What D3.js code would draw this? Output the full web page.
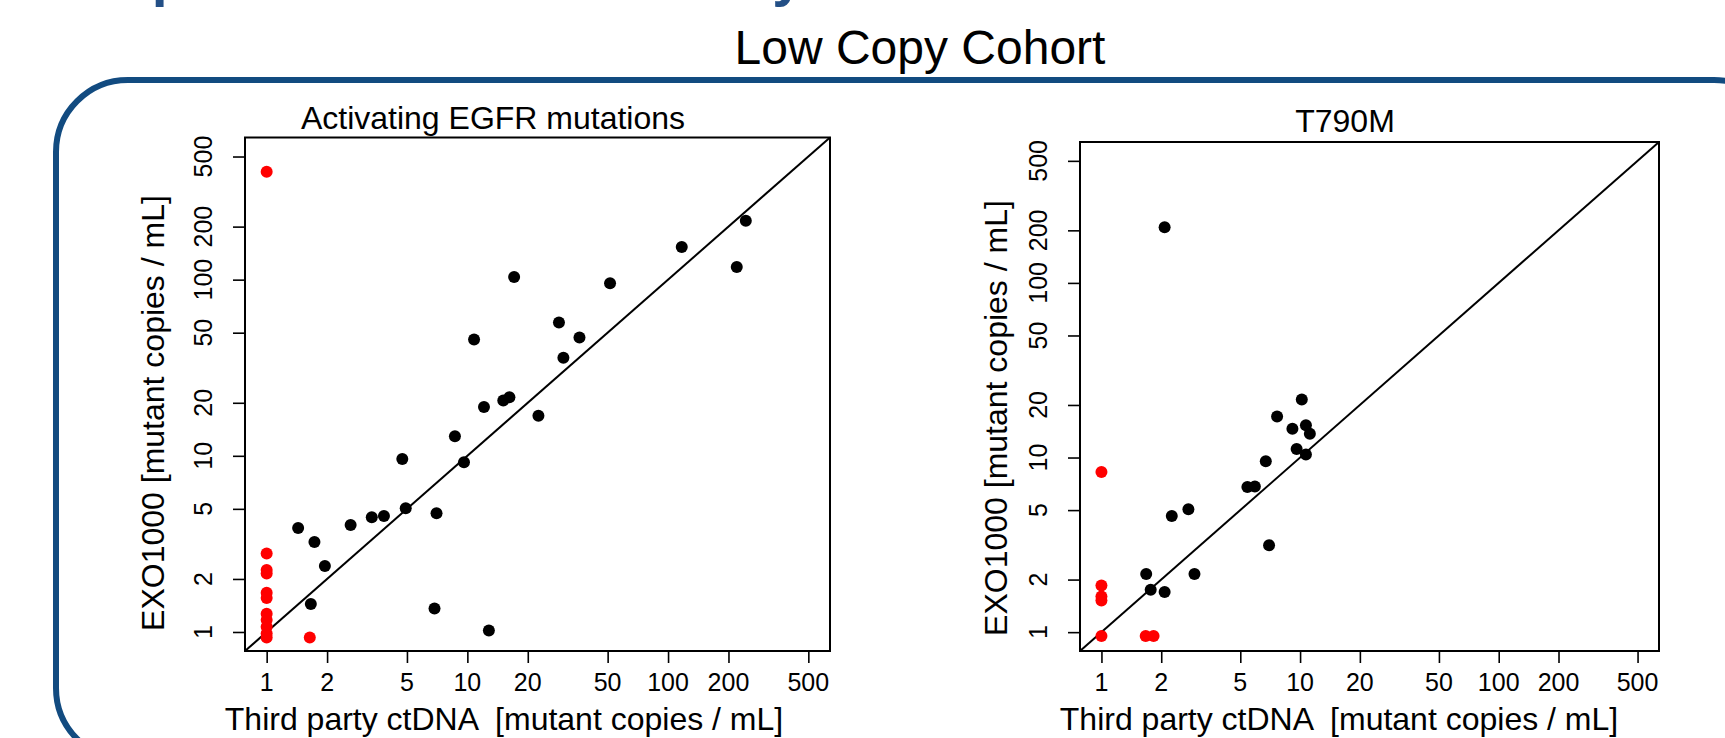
<!DOCTYPE html>
<html lang="en">
<head>
<meta charset="utf-8">
<style>
  body { margin: 0; background: #fff; }
  svg text { font-family: "Liberation Sans", Arial, sans-serif; fill: #000; }
</style>
</head>
<body>
<script src="https://d3js.org/d3.v7.min.js"></script>
<script>
    // tick values shared by both axes of both panels
    var tickVals = [1, 2, 5, 10, 20, 50, 100, 200, 500];

    // Activating EGFR mutations
    var egfrBlackX = [1.435, 1.73, 1.95, 1.66, 2.62, 3.34, 3.84, 4.74, 4.93, 7.02, 6.86, 12.8, 8.67, 9.62,
        12.1, 15.1, 16.2, 22.6, 10.8, 17.1, 30.1, 28.6, 36.2, 51.4, 117, 220, 244];
    var egfrBlackY = [3.89, 3.24, 2.37, 1.44, 4.05, 4.48, 4.55, 9.58, 5.04, 4.72, 1.36, 1.02, 12.9, 9.2,
        18.9, 20.6, 21.5, 16.9, 45.7, 103.5, 36.0, 57.1, 47.0, 95.3, 153, 118, 216];
    var egfrRedX = [1, 1, 1, 1, 1, 1, 1, 1, 1, 1, 1, 1.64];
    var egfrRedY = [410, 2.79, 2.25, 2.15, 1.67, 1.56, 1.27, 1.17, 1.07, 0.98, 0.93, 0.93];

    // T790M
    var t790BlackX = [1.68, 1.77, 2.08, 2.26, 2.74, 2.94, 5.43, 5.92, 6.72, 6.98, 7.66, 9.15, 9.61,
        10.2, 10.7, 11.2, 10.7, 2.08];
    var t790BlackY = [2.15, 1.75, 1.70, 4.62, 5.05, 2.15, 6.77, 6.83, 9.52, 3.15, 17.2, 14.6, 11.2,
        21.5, 15.3, 13.7, 10.4, 208];
    var t790RedX = [1, 1, 1, 1, 1, 1.67, 1.83];
    var t790RedY = [8.27, 1.85, 1.6, 1.52, 0.95, 0.95, 0.95];

    var W = 1725, H = 738;

    var svg = d3.select("body").append("svg")
        .attr("width", W)
        .attr("height", H);

    // blue heading, mostly cut off by the top edge
    svg.append("text")
        .attr("x", 25)
        .attr("y", -5)
        .style("font-size", "57px")
        .style("font-weight", "bold")
        .style("fill", "#234f86")
        .text("Comparison with Third Party");

    // rounded frame
    svg.append("rect")
        .attr("x", 56)
        .attr("y", 80)
        .attr("width", 1730)
        .attr("height", 680)
        .attr("rx", 72)
        .attr("ry", 72)
        .attr("fill", "none")
        .attr("stroke", "#124b80")
        .attr("stroke-width", 6);

    svg.append("text")
        .attr("x", 920)
        .attr("y", 64)
        .attr("text-anchor", "middle")
        .style("font-size", "48px")
        .text("Low Copy Cohort");

    // R style log limits: c(1, 500) widened by 4%
    var span = Math.log10(500);
    var lo = Math.pow(10, -0.04 * span),
        hi = Math.pow(10, span * 1.04);

    var panels = [
        { title: "Activating EGFR mutations", titleX: 493, titleY: 129, x0: 245, x1: 830, y0: 651, y1: 137.5,
          ytitleX: 164, ytitleY: 413, xtitleX: 504,
          bx: egfrBlackX, by: egfrBlackY, rx: egfrRedX, ry: egfrRedY },
        { title: "T790M", titleX: 1345, titleY: 132, x0: 1080, x1: 1659, y0: 651, y1: 142,
          ytitleX: 1007, ytitleY: 418, xtitleX: 1339,
          bx: t790BlackX, by: t790BlackY, rx: t790RedX, ry: t790RedY }
    ];

    panels.forEach(function (p) {
        var x = d3.scaleLog().domain([lo, hi]).range([p.x0, p.x1]);
        var y = d3.scaleLog().domain([lo, hi]).range([p.y0, p.y1]);
        var g = svg.append("g");

        // x axis ticks
        var xa = g.append("g")
            .attr("transform", "translate(0," + p.y0 + ")")
            .call(d3.axisBottom(x).tickValues(tickVals).tickSize(12).tickFormat(""));
        xa.select(".domain").remove();
        xa.selectAll("line").attr("stroke-width", 1.6);

        g.selectAll(".xlab")
            .data(tickVals)
            .enter().append("text")
            .attr("x", function (d) { return x(d); })
            .attr("y", p.y0 + 40)
            .attr("text-anchor", "middle")
            .style("font-size", "25px")
            .text(function (d) { return d; });

        // y axis ticks
        var ya = g.append("g")
            .attr("transform", "translate(" + p.x0 + ",0)")
            .call(d3.axisLeft(y).tickValues(tickVals).tickSize(12).tickFormat(""));
        ya.select(".domain").remove();
        ya.selectAll("line").attr("stroke-width", 1.6);

        g.selectAll(".ylab")
            .data(tickVals)
            .enter().append("text")
            .attr("transform", function (d) {
                return "translate(" + (p.x0 - 33) + "," + y(d) + ") rotate(-90)";
            })
            .attr("text-anchor", "middle")
            .style("font-size", "25px")
            .text(function (d) { return d; });

        // box
        g.append("rect")
            .attr("x", p.x0)
            .attr("y", p.y1)
            .attr("width", p.x1 - p.x0)
            .attr("height", p.y0 - p.y1)
            .attr("fill", "none")
            .attr("stroke", "#000")
            .attr("stroke-width", 2);

        // identity line
        g.append("line")
            .attr("x1", x(lo)).attr("y1", y(lo))
            .attr("x2", x(hi)).attr("y2", y(hi))
            .attr("stroke", "#000")
            .attr("stroke-width", 2);

        g.selectAll(".blk")
            .data(d3.range(p.bx.length))
            .enter().append("circle")
            .attr("cx", function (i) { return x(p.bx[i]); })
            .attr("cy", function (i) { return y(p.by[i]); })
            .attr("r", 6)
            .attr("fill", "#000");

        g.selectAll(".red")
            .data(d3.range(p.rx.length))
            .enter().append("circle")
            .attr("cx", function (i) { return x(p.rx[i]); })
            .attr("cy", function (i) { return y(p.ry[i]); })
            .attr("r", 6)
            .attr("fill", "#ff0000");

        // titles
        g.append("text")
            .attr("x", p.titleX)
            .attr("y", p.titleY)
            .attr("text-anchor", "middle")
            .style("font-size", "32px")
            .text(p.title);

        g.append("text")
            .attr("x", p.xtitleX)
            .attr("y", 730)
            .attr("text-anchor", "middle")
            .style("font-size", "32px")
            .style("white-space", "pre")
            .text("Third party ctDNA  [mutant copies / mL]");

        g.append("text")
            .attr("transform", "translate(" + p.ytitleX + "," + p.ytitleY + ") rotate(-90)")
            .attr("text-anchor", "middle")
            .style("font-size", "32px")
            .text("EXO1000 [mutant copies / mL]");
    });
</script>
</body>
</html>
